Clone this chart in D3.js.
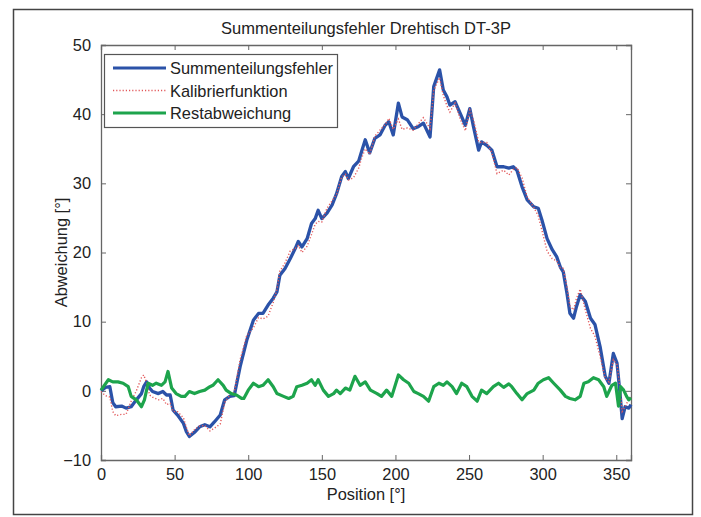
<!DOCTYPE html>
<html><head><meta charset="utf-8">
<script src="https://cdn.jsdelivr.net/npm/d3@7"></script>
<style>body{margin:0;background:#fff}svg{display:block;font-family:"Liberation Sans",Arial,sans-serif}</style>
</head><body><svg id="c" width="701" height="517"></svg>
<script>
const title = "Summenteilungsfehler Drehtisch DT-3P";
const xLabel = "Position [°]";
const yLabel = "Abweichung [°]";
const seriesNames = ["Summenteilungsfehler", "Kalibrierfunktion", "Restabweichung"];
const xTicks = [0, 50, 100, 150, 200, 250, 300, 350];
const yTicks = [-10, 0, 10, 20, 30, 40, 50];

// Summenteilungsfehler + Kalibrierfunktion (same positions)
const posA = [0,3,6,8,10,14,17,20.5,24,27.5,29,31,33,35,39,42,44.5,47,49,52,56,58,60,64,67,70.5,74,77,81,84,87.5,90.5,94.5,99,103.5,107,110,113.5,117,119.5,121.5,125,128.5,132,134,136.5,140,143,145.5,147.5,150,153.5,157,160,163.5,166,168,171.5,175,177,179.5,182.5,186,189.5,193,195.5,198.5,202,204.5,208,212,215.5,219,223.5,226,230,232.5,235,237,240.5,244,247.5,250.5,253,256.5,258.5,262,265.5,269,273.5,277,280,282.5,286,289.5,294,297,299.5,303,306.5,309.5,312,314,316.5,318.5,321,323,325.5,329,332.5,335.5,339,342.5,345,348,350.5,352.5,354,356,358.5,360];
const summenfehler = [0,0.5,0.6,-1.7,-2.3,-2.2,-2.5,-2.3,-1.3,-0.4,0.6,1.3,0.4,-0.1,-0.4,-0.1,-0.6,-0.6,-2.8,-3.5,-4.7,-5.9,-6.6,-5.9,-5.2,-4.9,-5.2,-4.5,-3.5,-1.3,-0.8,-0.7,3.5,7.3,10.2,11.2,11.2,12.4,13.4,14.3,16.7,17.7,19.1,20.6,21.6,20.8,22.0,24.2,24.9,26.1,24.9,25.7,26.9,28.5,31.0,31.7,30.7,32.4,33.2,34.6,36.3,34.4,36.5,37.0,38.4,38.9,37.0,41.6,39.6,39.2,37.9,38.2,38.7,36.7,44.0,46.4,43.5,42.5,41.3,41.8,40.1,38.4,40.8,38.2,34.8,36.0,35.5,34.8,32.4,32.4,32.2,32.4,31.9,29.5,27.6,26.6,26.4,24.7,22.0,20.4,19.4,17.9,17.2,14.1,11.2,10.5,12.2,13.9,12.9,10.5,9.6,6.4,2.1,1.1,5.4,4.0,-0.3,-4.0,-2.3,-2.5,-2.0];
const kalibrierung = [-0.1,-0.7,-0.9,-3.0,-3.6,-3.4,-3.4,-1.5,0,1.9,2.3,1.2,-0.6,-0.9,-1.3,-1.1,-2.0,-1.8,-3.0,-3.0,-3.9,-5.3,-6.5,-5.5,-5.1,-5.0,-5.8,-5.4,-4.8,-1.7,-0.6,-0.2,4.5,8.0,9.1,10.6,10.4,10.8,12.8,14.7,17.3,18.5,20.2,20.6,21.0,20.0,20.9,22.6,24.1,24.5,24.4,26.4,27.5,28.4,30.9,31.3,30.5,30.8,32.2,33.6,35.0,34.2,36.8,37.7,38.5,39.4,37.8,39.3,37.8,38.0,37.7,38.6,39.5,37.9,43.4,45.3,42.7,41.2,40.3,41.6,39.3,37.6,40.6,39.2,36.0,35.9,35.9,34.4,31.4,31.9,31.2,32.0,32.3,30.8,28.0,26.5,25.3,23.2,20.2,19.1,18.8,17.8,17.7,15.0,12.3,11.7,13.4,14.7,11.7,9.0,7.9,5.0,1.8,1.3,4.5,3.8,0.5,-3.0,-2.3,-1.2,-1.0];

// Restabweichung
const posR = [0,5,8,11.5,15,18.5,20.5,24,27.5,29.5,32,35,37.5,41,43.5,45.5,48,51,54.5,57,60,63.5,67,70.5,74,76,79.5,83,85,88.5,92,95.5,97,100,103.5,107,110,113.5,117,119.5,124,127.5,130.5,133,136.5,140,143,145.5,147.5,151,154.5,158,160,162.5,166,169,172.5,176,179.5,183,187.5,190.5,194,197.5,202,205.5,209,212.5,215.5,219,222.5,226,229.5,232.5,235,238.5,241.5,245,248.5,252,255.5,258.5,262,266.5,270,273.5,277,279,282.5,286,289.5,294,297,300.5,304,307.5,312,315.5,318.5,322,325.5,328,331,334.5,338,341.5,343.5,347,349.5,351.5,353,355,357,358.5,360];
const restabweichung = [0.1,1.6,1.3,1.3,1.1,0.6,-0.8,-1.3,-2.3,-1.3,1.1,0.8,1.1,0.8,1.3,2.8,0.4,-0.4,-0.8,-0.8,-0.1,-0.4,-0.1,0.1,0.6,0.8,1.6,0.8,0.1,-0.4,-0.6,-1.1,-1.1,0.1,1.1,0.6,0.8,1.6,0.6,-0.4,-0.8,-1.1,-0.8,0.6,0.8,1.1,1.6,0.8,1.6,0.1,-0.8,-0.4,0.1,-0.4,0.4,0.1,2.1,0.8,1.3,0.1,-0.4,-0.8,0.1,-0.8,2.3,1.6,1.1,-0.1,-0.4,-0.8,-1.5,0.6,1.1,0.8,1.3,0.6,-0.4,1.1,0.6,-0.8,-1.5,0.1,-0.4,0.6,1.1,0.5,1.0,0.6,-0.4,-1.3,-0.4,0.1,1.1,1.6,1.9,1.1,0.1,-0.8,-1.1,-1.3,-0.8,1.1,1.3,1.9,1.6,0.6,-0.8,0.8,1.1,-2.2,0.6,0.1,-0.8,-1.3,-1.0];

const colors = ["#2b52a8", "#e2585a", "#1da44c"];

const svg = d3.select("#c");
const m = {l:101, r:631, t:45, b:460};
const x = d3.scaleLinear().domain([0,360]).range([m.l, m.r]);
const y = d3.scaleLinear().domain([-10,50]).range([m.b, m.t]);
const FS = "16.4px";

// outer frame
svg.append("rect").attr("x",13.5).attr("y",9.5).attr("width",679).attr("height",505)
  .attr("fill","#fff").attr("stroke","#444").attr("stroke-width",1.5);

svg.append("rect").attr("x",m.l).attr("y",m.t).attr("width",m.r-m.l).attr("height",m.b-m.t).attr("fill","#fff");

const axisCol = "#666";
const gx = svg.append("g").attr("transform",`translate(0,${m.b})`)
  .call(d3.axisBottom(x).tickValues(xTicks).tickSize(-5).tickPadding(8).tickFormat(d3.format("d")));
const gxt = svg.append("g").attr("transform",`translate(0,${m.t})`)
  .call(d3.axisTop(x).tickValues(xTicks).tickSize(-5).tickFormat(""));
const gy = svg.append("g").attr("transform",`translate(${m.l},0)`)
  .call(d3.axisLeft(y).tickValues(yTicks).tickSize(-5).tickPadding(10).tickFormat(d3.format("d")));
const gyr = svg.append("g").attr("transform",`translate(${m.r},0)`)
  .call(d3.axisRight(y).tickValues(yTicks).tickSize(-5).tickFormat(""));
[gx,gxt,gy,gyr].forEach(g=>{
  g.selectAll("path").attr("stroke",axisCol).attr("stroke-width",1.3);
  g.selectAll("line").attr("stroke",axisCol).attr("stroke-width",1);
  g.selectAll("text").attr("fill","#222").style("font-size",FS).style("font-family","Liberation Sans, Arial, sans-serif");
});
gx.selectAll("text").attr("dy","0.71em");

const line = d3.line().x(d=>x(d[0])).y(d=>y(d[1]));
const plot = svg.append("g");
const blueData = posA.map((p,i)=>[p, summenfehler[i]]);
const redData = posA.map((p,i)=>[p, kalibrierung[i]]);
const greenData = posR.map((p,i)=>[p, restabweichung[i]]);
plot.append("path").datum(blueData).attr("d",line).attr("fill","none").attr("stroke",colors[0]).attr("stroke-width",3.3).attr("stroke-linejoin","round");
plot.append("path").datum(redData).attr("d",line).attr("fill","none").attr("stroke",colors[1]).attr("stroke-width",1.4).attr("stroke-dasharray","1.2,2");
plot.append("path").datum(greenData).attr("d",line).attr("fill","none").attr("stroke",colors[2]).attr("stroke-width",3.2).attr("stroke-linejoin","round");

// title and labels
svg.append("text").attr("x",(m.l+m.r)/2).attr("y",34).attr("text-anchor","middle")
  .style("font-size","16.5px").attr("fill","#222").text(title);
svg.append("text").attr("x",(m.l+m.r)/2).attr("y",500).attr("text-anchor","middle")
  .style("font-size",FS).attr("fill","#222").text(xLabel);
svg.append("text").attr("transform",`translate(67,${(m.t+m.b)/2}) rotate(-90)`).attr("text-anchor","middle")
  .style("font-size",FS).attr("fill","#222").text(yLabel);

// legend
const lg = svg.append("g");
lg.append("rect").attr("x",104.5).attr("y",54.5).attr("width",233).attr("height",73)
  .attr("fill","#fff").attr("stroke","#555").attr("stroke-width",1.2);
seriesNames.forEach((n,i)=>{
  const yy = 68 + i*22.5;
  const l = lg.append("line").attr("x1",113).attr("x2",166).attr("y1",yy).attr("y2",yy).attr("stroke",colors[i]);
  if(i===1) l.attr("stroke-width",1.4).attr("stroke-dasharray","1.2,2");
  else l.attr("stroke-width",3.2);
  lg.append("text").attr("x",170).attr("y",yy+6).style("font-size",FS).attr("fill","#222").text(n);
});
</script></body></html>
